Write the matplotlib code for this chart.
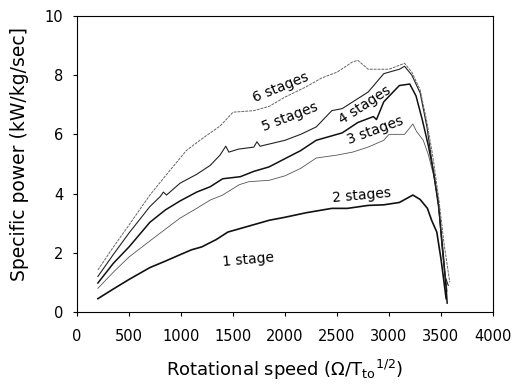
import matplotlib
matplotlib.use("Agg")
import matplotlib.pyplot as plt
import numpy as np

plt.rcParams['font.family'] = ['DejaVu Sans']

# speed vs specific power per stage count
s1_x = [200, 350, 500, 700, 850, 1000, 1100, 1200, 1340, 1450, 1600, 1850, 2000, 2200, 2450, 2600, 2800, 2950, 3100, 3230, 3300, 3370, 3410, 3460, 3500, 3530, 3550]
s1_y = [0.45, 0.78, 1.1, 1.5, 1.72, 1.95, 2.1, 2.2, 2.45, 2.7, 2.85, 3.1, 3.2, 3.35, 3.5, 3.5, 3.6, 3.62, 3.7, 3.95, 3.8, 3.5, 3.1, 2.7, 1.8, 1.0, 0.45]

s3_x = [200, 350, 500, 700, 850, 990, 1150, 1280, 1400, 1560, 1650, 1850, 2000, 2150, 2300, 2500, 2650, 2800, 2950, 3000, 3150, 3230, 3265, 3330, 3380, 3430, 3470, 3510, 3540, 3560]
s3_y = [0.8, 1.35, 1.86, 2.4, 2.8, 3.17, 3.5, 3.78, 3.95, 4.3, 4.4, 4.45, 4.6, 4.85, 5.2, 5.3, 5.4, 5.57, 5.8, 6.0, 6.0, 6.35, 6.1, 5.8, 5.3, 4.6, 3.8, 2.4, 1.3, 0.7]

s4_x = [200, 350, 500, 700, 850, 990, 1150, 1280, 1400, 1570, 1700, 1846, 2000, 2150, 2300, 2500, 2550, 2700, 2850, 2880, 2950, 3100, 3200, 3260, 3320, 3380, 3430, 3480, 3520, 3550, 3560]
s4_y = [0.98, 1.65, 2.2, 3.03, 3.45, 3.75, 4.05, 4.23, 4.5, 4.57, 4.75, 4.9, 5.18, 5.45, 5.8, 6.0, 6.05, 6.4, 6.6, 6.5, 7.1, 7.65, 7.7, 7.3, 6.5, 5.6, 4.7, 3.5, 2.0, 0.8, 0.3]

s5_x = [200, 350, 500, 700, 800, 830, 860, 990, 1150, 1280, 1375, 1430, 1460, 1550, 1700, 1730, 1760, 2000, 2150, 2300, 2450, 2550, 2800, 2950, 3100, 3150, 3220, 3300, 3365, 3425, 3475, 3510, 3540, 3570]
s5_y = [1.2, 1.95, 2.67, 3.56, 3.9, 4.05, 3.95, 4.35, 4.65, 4.95, 5.3, 5.6, 5.4, 5.5, 5.57, 5.75, 5.6, 5.8, 6.0, 6.25, 6.8, 6.87, 7.43, 8.05, 8.2, 8.3, 8.0, 7.4, 6.25, 4.8, 3.7, 2.2, 1.2, 0.9]

s6_x = [200, 350, 500, 700, 850, 1050, 1200, 1375, 1500, 1700, 1850, 2000, 2200, 2350, 2500, 2650, 2700, 2800, 3000, 3150, 3220, 3300, 3360, 3420, 3480, 3530, 3585]
s6_y = [1.42, 2.2, 2.94, 3.95, 4.6, 5.45, 5.85, 6.28, 6.75, 6.8, 6.95, 7.26, 7.6, 7.9, 8.1, 8.45, 8.5, 8.2, 8.2, 8.4, 8.1, 7.5, 6.5, 5.3, 3.8, 2.3, 1.0]

labels = ['1 stage', '2 stages', '3 stages', '4 stages', '5 stages', '6 stages']
label_x = [1650, 2740, 2870, 2770, 2050, 1960]
label_y = [1.75, 3.95, 6.15, 7.0, 6.6, 7.6]
label_rot = [5, 5, 20, 33, 21, 22]

fig = plt.figure(figsize=(5.14, 3.84), dpi=100)
ax = fig.add_axes([0.150, 0.1875, 0.809, 0.771])

ax.plot(s1_x, s1_y, color='#111111', lw=1.2)
ax.plot(s3_x, s3_y, color='#555555', lw=0.6)
ax.plot(s4_x, s4_y, color='#111111', lw=1.1)
ax.plot(s5_x, s5_y, color='#222222', lw=0.8)
ax.plot(s6_x, s6_y, color='#666666', lw=0.7, ls=(0, (3, 1)))

for t, x, y, r in zip(labels, label_x, label_y, label_rot):
    ax.text(x, y, t, fontsize=10, rotation=r, ha='center', va='center')

ax.set_xlim(0, 4000)
ax.set_ylim(0, 10)
ax.set_xticks(np.arange(0, 4001, 500))
ax.set_yticks(np.arange(0, 11, 2))
ax.tick_params(labelsize=10.5, direction='out', length=3)
ax.tick_params(axis='x', pad=9)
ax.tick_params(axis='y', pad=7)
ax.set_xlabel(r'Rotational speed ($\Omega$/T$_{\rm to}$$^{\rm 1/2}$)', fontsize=13, labelpad=10)
ax.set_ylabel('Specific power (kW/kg/sec]', fontsize=13.5)
ax.yaxis.set_label_coords(-0.115, 0.535)
for sp in ax.spines.values():
    sp.set_linewidth(0.8)

fig.savefig('out.png', dpi=100)
